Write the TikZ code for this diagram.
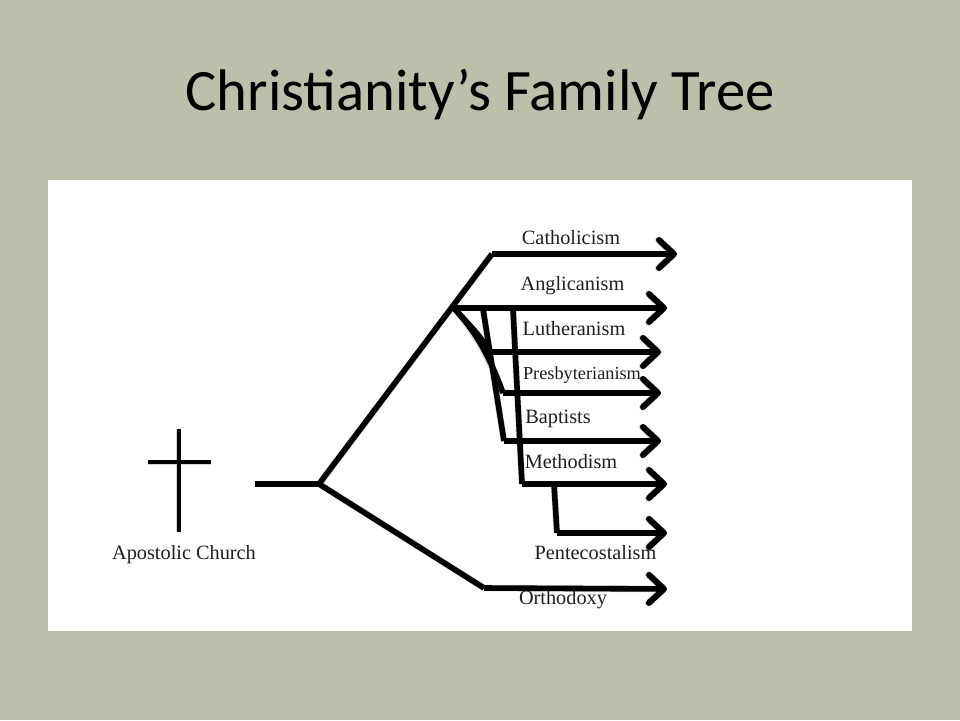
\documentclass[tikz,border=0pt]{standalone}
\usepackage{fontspec}
\setmainfont{Liberation Serif}
\newfontfamily\titlefont{Carlito}
\usetikzlibrary{arrows.meta}
\definecolor{slidebg}{RGB}{187,192,170}
\newcommand{\treelines}{%
  \draw[crossbar] (crossL) -- (crossR);
  \draw[crossbar] (crossT) -- (crossB);
  \draw[branch] (stem) -- (fork);
  \draw[branch] (fork) -- (cathJ);
  \draw[leaf] (cathJ) -- (cathE);
  \draw[branch] (fork) -- (orthJ);
  \draw[leaf] (orthJ) -- (orthE);
  \draw[leaf] (protJ) -- (angE);
  \draw[branch] (protJ) .. controls (466,322) and (478,332) .. (lutJ);
  \draw[leaf] (lutJ) -- (lutE);
  \draw[branch] (protJ) .. controls (474,330) and (488,352) .. (presJ);
  \draw[leaf] (presJ) -- (presE);
  \draw[branch] (bapT) -- (bapJ);
  \draw[leaf] (bapJ) -- (bapE);
  \draw[branch] (metT) -- (metJ);
  \draw[leaf] (metJ) -- (metE);
  \draw[branch] (penT) -- (penJ);
  \draw[leaf] (penJ) -- (penE);
}
\tikzset{
  lbl/.style={font=\fontsize{20.3}{23}\selectfont, text=black!88, inner sep=0pt, anchor=base},
  branch/.style={draw=black, line width=5.6pt, line cap=butt, line join=round},
  leaf/.style={branch, -{Straight Barb[length=15pt,width=28pt,line width=6pt,round]}},
  crossbar/.style={draw=black, line width=4pt},
}
\begin{document}
\begin{tikzpicture}[x=1pt,y=-1pt]
\useasboundingbox (0,0) rectangle (960,720);
\fill[slidebg] (0,0) rectangle (960,720);
\fill[white] (48,180) rectangle (912,631);
\node[font=\titlefont\fontsize{58.7}{64}\selectfont, inner sep=0pt, anchor=base] (title) at (480,110) {Christianity’s Family Tree};

% cross
\coordinate (crossT) at (178.5,429);
\coordinate (crossB) at (178.5,532);
\coordinate (crossL) at (148,462);
\coordinate (crossR) at (211,462);

% junctions
\coordinate (stem) at (255,484);
\coordinate (fork) at (319,484);
\coordinate (cathJ) at (492,254);
\coordinate (orthJ) at (484,588);
\coordinate (protJ) at (454,308);
\coordinate (lutJ) at (490,352);
\coordinate (presJ) at (503,393);
\coordinate (bapT) at (483,309);
\coordinate (bapJ) at (504,441);
\coordinate (metT) at (513,309);
\coordinate (metJ) at (522,484);
\coordinate (penT) at (554,484);
\coordinate (penJ) at (557,533);

% arrow ends
\coordinate (cathE) at (677,254);
\coordinate (angE) at (667,308);
\coordinate (lutE) at (661,352);
\coordinate (presE) at (661,393);
\coordinate (bapE) at (661,441);
\coordinate (metE) at (667,484);
\coordinate (penE) at (667,533);
\coordinate (orthE) at (667,589);

% soft shadow pass, then the lines
\begin{scope}[yshift=-2.5pt,
  branch/.style={draw=black!16, line width=6.6pt, line cap=butt, line join=round},
  leaf/.style={branch, -{Straight Barb[length=15pt,width=28pt,line width=7pt,round]}},
  crossbar/.style={draw=black!16, line width=5pt}]
  \treelines
\end{scope}
\treelines

% labels
\node[lbl] (apostolic) at (184,559) {Apostolic Church};
\node[lbl] (cath) at (571,244) {Catholicism};
\node[lbl] (ang) at (572.5,290) {Anglicanism};
\node[lbl] (lut) at (574,335) {Lutheranism};
\node[lbl, font=\fontsize{18.3}{20}\selectfont] (pres) at (582,379) {Presbyterianism};
\node[lbl] (bap) at (558,423) {Baptists};
\node[lbl] (met) at (571,468) {Methodism};
\node[lbl] (pen) at (595.5,559) {Pentecostalism};
\node[lbl] (orth) at (563,604) {Orthodoxy};
\end{tikzpicture}
\end{document}
